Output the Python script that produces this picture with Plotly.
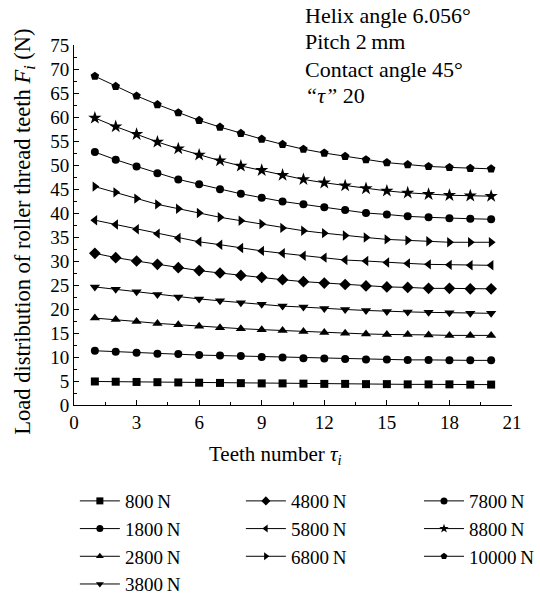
import plotly.graph_objects as go

teeth = list(range(1, 21))

labels = ["800\u2009N", "1800\u2009N", "2800\u2009N", "3800\u2009N", "4800\u2009N",
          "5800\u2009N", "6800\u2009N", "7800\u2009N", "8800\u2009N", "10000\u2009N"]

f800 = [4.9, 4.85, 4.8, 4.75, 4.7, 4.65, 4.6, 4.55, 4.5, 4.5, 4.45, 4.4, 4.4, 4.35, 4.35, 4.3, 4.3, 4.3, 4.25, 4.25]
f1800 = [11.3, 11.1, 10.9, 10.7, 10.6, 10.4, 10.3, 10.2, 10.0, 9.9, 9.75, 9.7, 9.6, 9.5, 9.5, 9.4, 9.4, 9.3, 9.3, 9.3]
f2800 = [18.1, 17.8, 17.4, 17.0, 16.7, 16.4, 16.1, 15.9, 15.7, 15.5, 15.3, 15.1, 14.95, 14.8, 14.7, 14.7, 14.6, 14.5, 14.5, 14.5]
f3800 = [24.6, 24.1, 23.6, 23.0, 22.5, 22.1, 21.7, 21.3, 21.0, 20.6, 20.4, 20.1, 19.9, 19.7, 19.5, 19.4, 19.3, 19.2, 19.1, 19.1]
f4800 = [31.6, 30.7, 30.0, 29.3, 28.6, 28.0, 27.5, 27.0, 26.6, 26.1, 25.7, 25.4, 25.1, 24.8, 24.6, 24.5, 24.3, 24.3, 24.2, 24.2]
f5800 = [38.5, 37.6, 36.6, 35.7, 34.8, 34.0, 33.4, 32.7, 32.1, 31.6, 31.1, 30.7, 30.2, 30.0, 29.7, 29.5, 29.3, 29.2, 29.1, 29.1]
f6800 = [45.5, 44.3, 43.0, 41.8, 40.9, 40.0, 39.1, 38.4, 37.7, 36.9, 36.3, 35.8, 35.3, 34.9, 34.5, 34.3, 34.1, 33.9, 33.9, 33.9]
f7800 = [52.7, 51.1, 49.7, 48.3, 47.0, 46.0, 44.96, 44.0, 43.2, 42.4, 41.8, 41.2, 40.6, 40.0, 39.7, 39.3, 39.1, 38.9, 38.8, 38.7]
f8800 = [59.8, 58.0, 56.4, 54.8, 53.4, 52.1, 50.9, 49.8, 48.9, 47.9, 47.0, 46.3, 45.7, 45.1, 44.6, 44.2, 43.9, 43.7, 43.6, 43.5]
f10000 = [68.5, 66.4, 64.4, 62.6, 60.9, 59.3, 57.9, 56.6, 55.4, 54.3, 53.3, 52.5, 51.8, 51.1, 50.5, 50.1, 49.7, 49.5, 49.3, 49.2]

series = [f800, f1800, f2800, f3800, f4800, f5800, f6800, f7800, f8800, f10000]
symbols = ["square", "circle", "triangle-up", "triangle-down", "diamond",
           "triangle-left", "triangle-right", "circle", "star", "pentagon"]
sizes = [8, 8, 9, 9, 9, 9, 9, 8, 10, 9]
legend_ids = ["legend", "legend", "legend", "legend", "legend2", "legend2", "legend2",
              "legend3", "legend3", "legend3"]

x_title = "Teeth number <i>τ</i><sub><i>i</i></sub>"
y_title = "Load distribution of roller thread teeth <i>F</i><sub><i>i</i></sub> (N)"
notes = ["Helix angle 6.056°", "Pitch 2\u2009mm", "Contact angle 45°", "<i>“τ”</i> 20"]

FONT = "Liberation Serif, Times New Roman, serif"

fig = go.Figure()
for lab, ys, sym, sz in zip(labels, series, symbols, sizes):
    fig.add_trace(go.Scatter(
        x=teeth, y=ys, name=lab, mode="lines+markers",
        line=dict(color="black", width=1),
        marker=dict(symbol=sym, size=sz, color="black", line=dict(width=0)),
        showlegend=False,
    ))
# legend-only entries (smaller symbols, as in the reference key)
for lab, sym, lg in zip(labels, symbols, legend_ids):
    fig.add_trace(go.Scatter(
        x=[None], y=[None], name=lab, mode="lines+markers",
        line=dict(color="black", width=1),
        marker=dict(symbol=sym, size=7, color="black", line=dict(width=0)),
        legend=lg, showlegend=True,
    ))

legend_common = dict(
    font=dict(family=FONT, size=19, color="black"),
    bgcolor="rgba(0,0,0,0)", traceorder="normal", itemwidth=40,
    xref="paper", yref="container", xanchor="left", yanchor="top",
)

fig.update_layout(
    width=540, height=594,
    margin=dict(l=73.5, r=28, t=45, b=189.3),
    paper_bgcolor="white", plot_bgcolor="white",
    font=dict(family=FONT, size=19, color="black"),
    legend=dict(x=0.002, y=0.1885, **legend_common),
    legend2=dict(x=0.381, y=0.1885, **legend_common),
    legend3=dict(x=0.793, y=0.1885, **legend_common),
    xaxis=dict(
        range=[0, 21], tickmode="linear", tick0=0, dtick=3,
        showline=True, linecolor="black", linewidth=1, mirror=False,
        ticks="inside", ticklen=5, tickwidth=1, tickcolor="black",
        minor=dict(ticks="inside", ticklen=3, dtick=1.5, tick0=0, tickcolor="black"),
        showgrid=False, zeroline=False, automargin=False,
        tickfont=dict(family=FONT, size=19),
    ),
    yaxis=dict(
        range=[0, 75], tickmode="linear", tick0=0, dtick=5,
        showline=True, linecolor="black", linewidth=1, mirror=False,
        ticks="inside", ticklen=5, tickwidth=1, tickcolor="black",
        minor=dict(ticks="inside", ticklen=3, dtick=2.5, tick0=0, tickcolor="black"),
        showgrid=False, zeroline=False, automargin=False,
        tickfont=dict(family=FONT, size=19),
    ),
)

# axis titles placed as in the reference
fig.add_annotation(text=x_title, xref="paper", yref="paper",
                   x=(275 - 73.5) / 438.5, y=(404.7 - 455) / 359.7,
                   xanchor="center", yanchor="middle", showarrow=False,
                   font=dict(family=FONT, size=21, color="black"))
fig.add_annotation(text=y_title, xref="paper", yref="paper", textangle=-90,
                   x=(24 - 73.5) / 438.5, y=(404.7 - 232) / 359.7,
                   xanchor="center", yanchor="middle", showarrow=False,
                   font=dict(family=FONT, size=22.5, color="black"))

note_y = [16, 42, 69, 95]
for txt, py in zip(notes, note_y):
    fig.add_annotation(
        text=txt, xref="paper", yref="paper",
        x=(303 - 73.5) / 438.5, y=(404.7 - py) / 359.7,
        xanchor="left", yanchor="middle", showarrow=False,
        font=dict(family=FONT, size=22, color="black"),
    )

fig.write_html("out.html", config={"displayModeBar": False},
               post_script="document.body.style.margin='0px';")
